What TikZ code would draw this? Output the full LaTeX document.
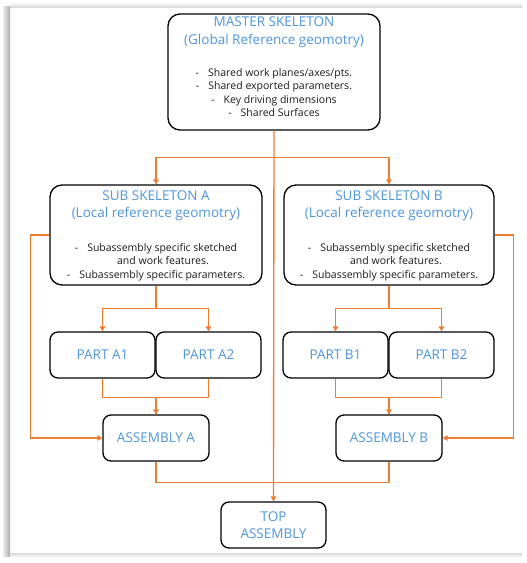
\documentclass[tikz,border=0pt]{standalone}
\usepackage{fontspec}
\setmainfont{Open Sans}
\usetikzlibrary{arrows.meta}
\definecolor{ttl}{HTML}{4F96DC}
\definecolor{conn}{HTML}{ED7D31}
\definecolor{txt}{HTML}{1A1A1A}
\begin{document}
\begin{tikzpicture}[x=1pt,y=-1pt,
  bigbox/.style={draw=black, line width=1.3pt, rounded corners=12pt, fill=white, inner sep=0pt},
  smallbox/.style={draw=black, line width=1.3pt, rounded corners=8pt, fill=white, inner sep=0pt,
    minimum width=105pt, minimum height=46pt, text=ttl, font=\fontsize{13.5}{17}\selectfont, align=center},
  ttltext/.style={text=ttl, align=center, inner sep=0pt},
  bultext/.style={text=txt, align=center, inner sep=0pt},
  line/.style={draw=conn, line width=1.35pt},
  arr/.style={line, -{Triangle[width=5.5pt,length=5pt]}}]
\useasboundingbox (0,0) rectangle (527,563);
% frame
\shade[left color=gray!15, right color=gray!65] (3,6) rectangle (10,556);
\shade[top color=gray!5, bottom color=gray!30] (10,3) rectangle (522,7);
\shade[top color=gray!30, bottom color=gray!5] (10,553) rectangle (522,557);
% boxes
\node[bigbox, minimum width=212pt, minimum height=116pt] (master) at (274,72) {};
\node[ttltext, font=\fontsize{13.5}{18}\selectfont] (mt) at (274,32) {MASTER SKELETON\\(Global Reference geomotry)};
\node[bultext, font=\fontsize{10.5}{13.3}\selectfont] (mb) at (274,92.5) {-\hspace{9pt}Shared work planes/axes/pts.\\-\hspace{9pt}Shared exported parameters.\\-\hspace{9pt}Key driving dimensions\\-\hspace{9pt}Shared Surfaces};

\node[bigbox, minimum width=212pt, minimum height=100pt] (subA) at (156,235) {};
\node[ttltext, font=\fontsize{13.5}{17}\selectfont] (sat) at (156,206) {SUB SKELETON A\\(Local reference geomotry)};
\node[bultext, font=\fontsize{10.5}{13.5}\selectfont] (sab) at (156,262) {-\hspace{9pt}Subassembly specific sketched\\\hspace{14pt}and work features.\\-\hspace{9pt}Subassembly specific parameters.};

\node[bigbox, minimum width=210pt, minimum height=100pt] (subB) at (389,235) {};
\node[ttltext, font=\fontsize{13.5}{17}\selectfont] (sbt) at (389,206) {SUB SKELETON B\\(Local reference geomotry)};
\node[bultext, font=\fontsize{10.5}{13.5}\selectfont] (sbb) at (389,262) {-\hspace{9pt}Subassembly specific sketched\\\hspace{14pt}and work features.\\-\hspace{9pt}Subassembly specific parameters.};

\node[smallbox] (pA1) at (102.5,355) {PART A1};
\node[smallbox] (pA2) at (208.5,355) {PART A2};
\node[smallbox] (pB1) at (335.5,355) {PART B1};
\node[smallbox] (pB2) at (441.5,355) {PART B2};
\node[smallbox, minimum width=106pt] (asmA) at (156,438) {ASSEMBLY A};
\node[smallbox, minimum width=106pt] (asmB) at (389,438) {ASSEMBLY B};
\node[smallbox] (top) at (273.5,525) {TOP\\ASSEMBLY};

% connectors
\draw[arr] (master.south) -- (top.north);
\draw[arr] (master.south) ++(0,27) coordinate (br) -| (subA.north);
\draw[arr] (br) -| (subB.north);
\draw[arr] (subA.west) -- ++(-19,0) |- (asmA.west);
\draw[arr] (subB.east) -- ++(19,0) |- (asmB.east);
\draw[arr] (subA.south) -- ++(0,23) -| (pA1.north);
\draw[arr] (subA.south) -- ++(0,23) -| (pA2.north);
\draw[arr] (subB.south) -- ++(0,23) -| (pB1.north);
\draw[arr] (subB.south) -- ++(0,23) -| (pB2.north);
\draw[arr] (pA1.south) -- ++(0,19) -| (asmA.north);
\draw[line] (pA2.south) -- ++(0,19) -| (asmA.north);
\draw[arr] (pB1.south) -- ++(0,19) -| (asmB.north);
\draw[line] (pB2.south) -- ++(0,19) -| (asmB.north);
\draw[line] (asmA.south) -- ++(0,21) -| (asmB.south);
\end{tikzpicture}
\end{document}
